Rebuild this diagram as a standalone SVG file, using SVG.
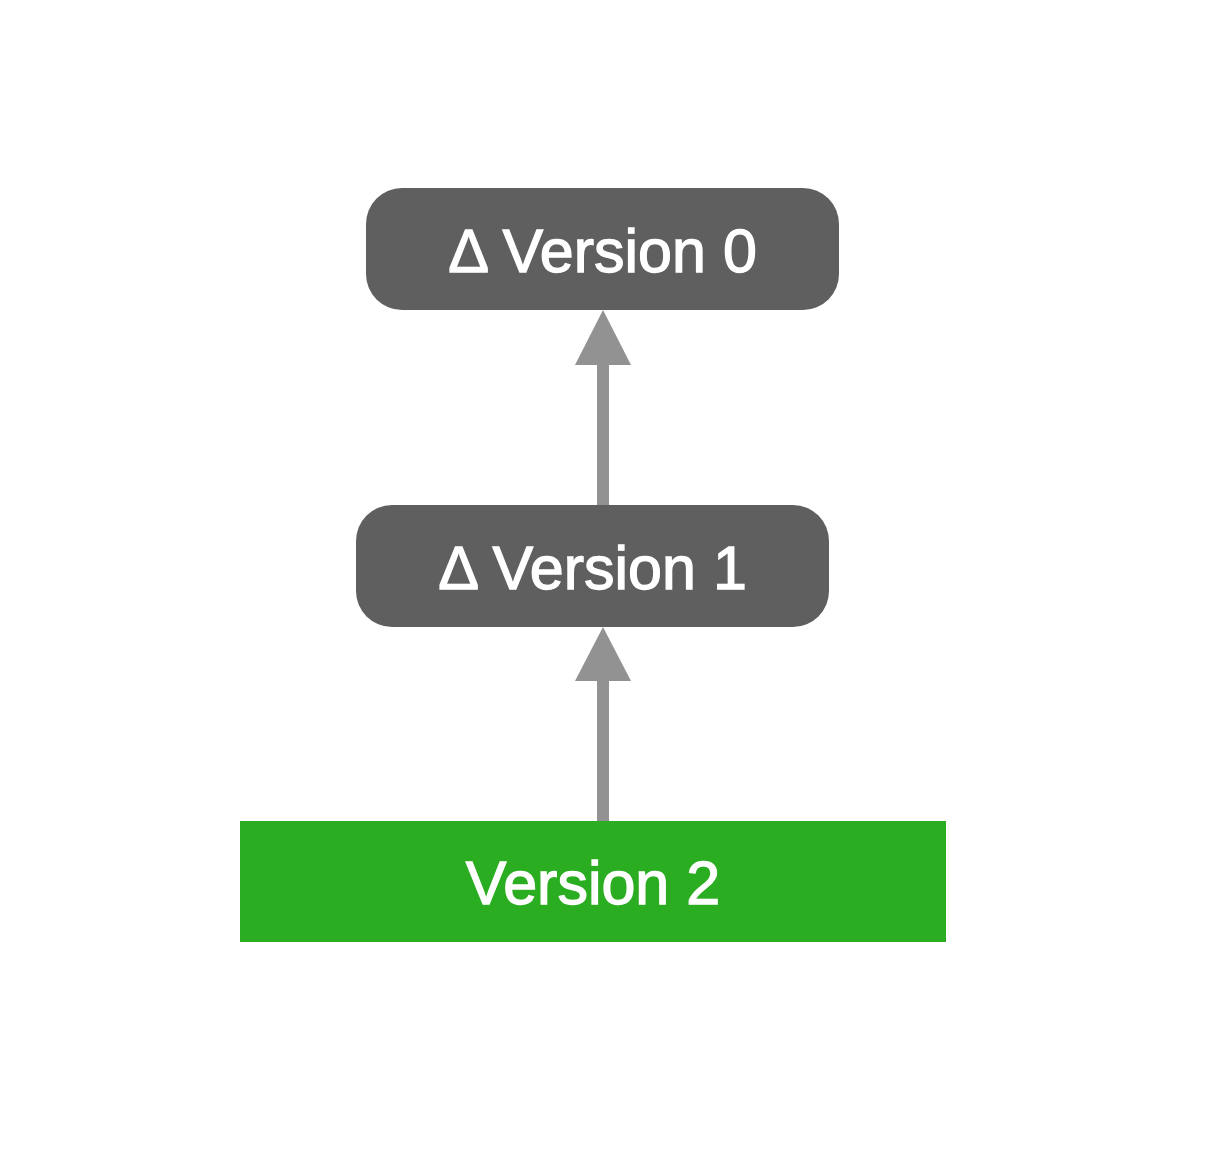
<svg xmlns="http://www.w3.org/2000/svg" width="1220" height="1152" viewBox="0 0 1220 1152">
<style>
.delta{fill:#5f5f5f}
.lbl{font-family:"Liberation Sans",Arial,sans-serif;font-size:61px;fill:#ffffff;stroke:#ffffff;stroke-width:1.3;text-anchor:middle}
.shaft{stroke:#929292;stroke-width:12;fill:none}
.head{fill:#929292}
</style>
<rect width="1220" height="1152" fill="#ffffff"/>
<g id="connectors">
<line class="shaft" x1="603" y1="506" x2="603" y2="362"/>
<polygon class="head" points="603,310 631,365 575,365"/>
<line class="shaft" x1="603" y1="823" x2="603" y2="679"/>
<polygon class="head" points="603,627 631,681 575,681"/>
</g>
<g id="node-v0">
<rect class="delta" x="366" y="188" width="473" height="122" rx="36" ry="36"/>
<text class="lbl" x="602.5" y="272">Δ Version 0</text>
</g>
<g id="node-v1">
<rect class="delta" x="356" y="505" width="473" height="122" rx="36" ry="36"/>
<text class="lbl" x="592.5" y="589">Δ Version 1</text>
</g>
<g id="node-v2">
<rect x="240" y="821" width="706" height="121" fill="#2aad20"/>
<text class="lbl" x="593" y="904">Version 2</text>
</g>
</svg>
